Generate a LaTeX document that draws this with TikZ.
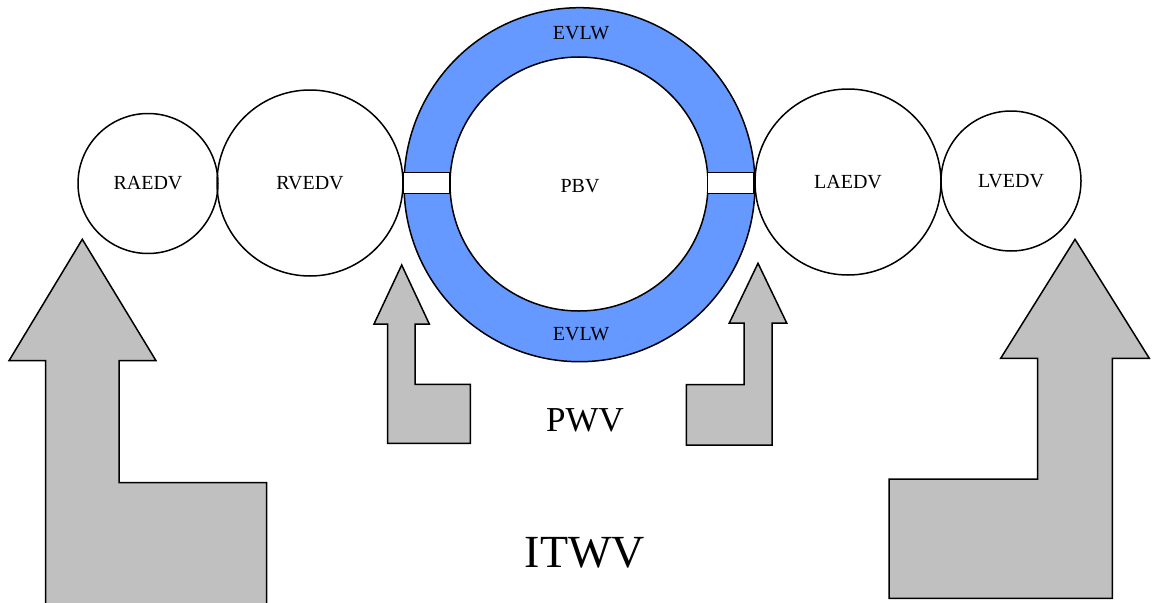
\documentclass[tikz,border=0pt]{standalone}
\usepackage{fontspec}
\setmainfont{Liberation Serif}
\definecolor{ringblue}{HTML}{6699FF}
\definecolor{arrowgray}{HTML}{C0C0C0}
\begin{document}
\begin{tikzpicture}[x=1pt,y=-1pt,
  lbl/.style={font=\fontsize{20}{24}\selectfont, inner sep=0pt},
  chamber/.style={circle, draw, line width=1.5pt, inner sep=0pt, font=\fontsize{20}{24}\selectfont},
  smallch/.style={chamber, minimum size=140pt},
  bigch/.style={chamber, minimum size=186pt},
  gapbar/.style={rectangle, draw, fill=white, line width=1.5pt, inner sep=0pt, minimum width=46.7pt, minimum height=21pt},
  flow/.style={fill=arrowgray, draw, line width=1.5pt, line join=miter}]
\clip (0,0) rectangle (1153,602);
\fill[white] (0,0) rectangle (1153,602);
% ring
\fill[ringblue, even odd rule] (579.5,184.7) ellipse [x radius=175.5, y radius=177] (579,184) ellipse [x radius=129, y radius=127];
\draw[line width=1.5pt] (579.5,184.7) ellipse [x radius=175.5, y radius=177];
\draw[line width=1.5pt] (579,184) ellipse [x radius=129, y radius=127];
\node[gapbar] (barL) at (426.7,183.2) {};
\node[gapbar] (barR) at (730.7,183.2) {};
% chambers
\node[smallch] (raedv) at (148,183.5) {RAEDV};
\node[bigch] (rvedv) at (310,183) {RVEDV};
\node[bigch] (laedv) at (848,182) {LAEDV};
\node[smallch] (lvedv) at (1011,181) {LVEDV};
% labels
\node[lbl] (evlwT) at (581,33) {EVLW};
\node[lbl] (evlwB) at (581,334) {EVLW};
\node[lbl] (pbv) at (580,186) {PBV};
\node[font=\fontsize{35}{40}\selectfont, inner sep=0pt] (pwv) at (585,420) {PWV};
\node[font=\fontsize{46}{52}\selectfont, inner sep=0pt] (itwv) at (585,553) {ITWV};
% arrows
\draw[flow] (82.3,239.3) -- (156,360.7) -- (119,360.7) -- (119,482.7) -- (266.7,482.7) -- (266.7,612) -- (45.7,612) -- (45.7,360.7) -- (9,360.7) -- cycle;
\draw[flow] (1075,239.3) -- (1149.3,358.3) -- (1112.3,358.3) -- (1112.3,598.3) -- (889,598.3) -- (889,479) -- (1037.7,479) -- (1037.7,358.3) -- (1000.7,358.3) -- cycle;
\draw[flow] (401.7,265) -- (429.3,324) -- (415,324) -- (415,384.3) -- (470.3,384.3) -- (470.3,443.3) -- (387.7,443.3) -- (387.7,324) -- (374,324) -- cycle;
\draw[flow] (758,263.3) -- (786.7,323) -- (772,323) -- (772,445) -- (686.3,445) -- (686.3,384.7) -- (744,384.7) -- (744,323) -- (729.3,323) -- cycle;
\end{tikzpicture}
\end{document}
